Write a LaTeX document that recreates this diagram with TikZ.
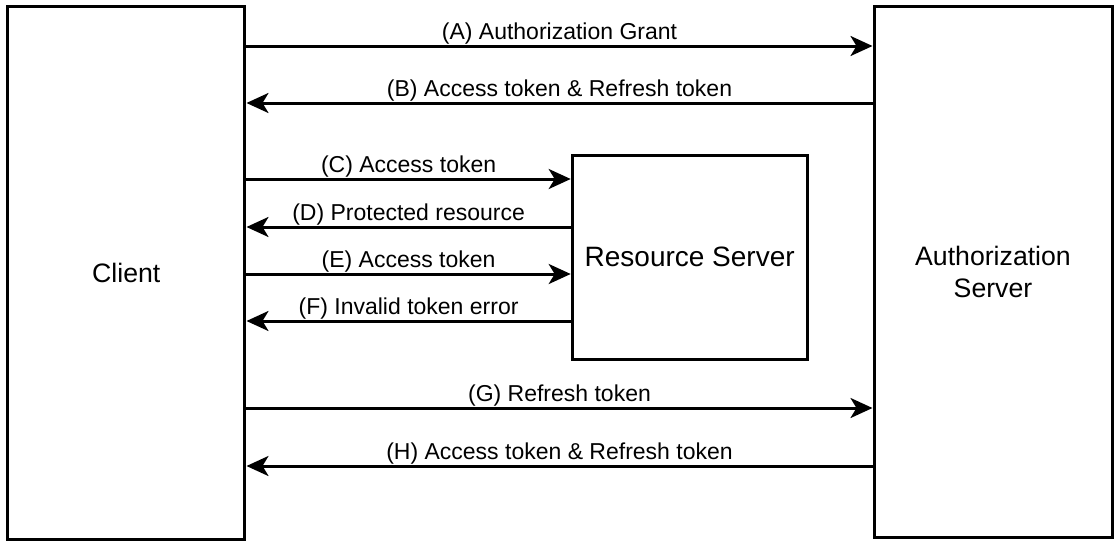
\documentclass[tikz,border=0pt]{standalone}
\usepackage{fontspec}
\setmainfont{Liberation Sans}
\usetikzlibrary{arrows.meta}
\tikzset{
  box/.style={draw,line width=2.25pt,align=center,font=\fontsize{20}{24}\selectfont},
  flow/.style={line width=2.25pt,-{Stealth[length=16.5pt,width=15pt,inset=4.5pt]}},
  lbl/.style={midway,anchor=base,yshift=4.9pt,inner sep=0pt,font=\fontsize{17.25}{20}\selectfont}
}

\begin{document}
\begin{tikzpicture}[x=0.75pt,y=-0.75pt]
  \useasboundingbox (0,0) rectangle (1120,543);
  % the three parties
  \node [box,minimum width=178.1pt,minimum height=399.75pt] (client) at (126.25,272.5) {Client};
  \node [box,minimum width=178.5pt,minimum height=398.25pt] (authsrv) at (993,271.5) {Authorization\\Server};
  \node [box,minimum width=176.25pt,minimum height=153pt,font=\fontsize{21}{24}\selectfont] (ressrv) at (689.7,257) {Resource Server};
  % client <-> authorization server
  \draw [flow] (client.east |- 0,46) -- (authsrv.west |- 0,46) node [lbl] {(A) Authorization Grant};
  \draw [flow] (authsrv.west |- 0,103) -- (client.east |- 0,103) node [lbl] {(B) Access token \& Refresh token};
  % client <-> resource server
  \draw [flow] (client.east |- 0,179) -- (ressrv.west |- 0,179) node [lbl] {(C) Access token};
  \draw [flow] (ressrv.west |- 0,227) -- (client.east |- 0,227) node [lbl] {(D) Protected resource};
  \draw [flow] (client.east |- 0,274) -- (ressrv.west |- 0,274) node [lbl] {(E) Access token};
  \draw [flow] (ressrv.west |- 0,321) -- (client.east |- 0,321) node [lbl] {(F) Invalid token error};
  % refresh
  \draw [flow] (client.east |- 0,408) -- (authsrv.west |- 0,408) node [lbl] {(G) Refresh token};
  \draw [flow] (authsrv.west |- 0,466) -- (client.east |- 0,466) node [lbl] {(H) Access token \& Refresh token};
\end{tikzpicture}
\end{document}
